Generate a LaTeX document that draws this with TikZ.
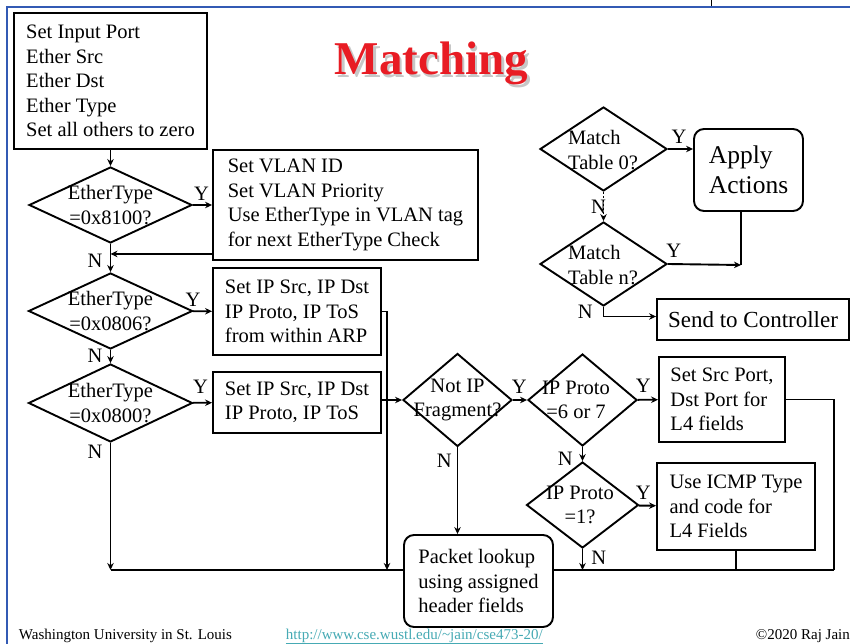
\documentclass[tikz,border=0pt]{standalone}
\usepackage{fontspec}
\setmainfont{Liberation Serif}
\usepackage{tikz}
\usetikzlibrary{shapes.geometric,arrows.meta,calc,positioning}

\definecolor{titlered}{RGB}{232,28,36}
\definecolor{framecol}{RGB}{50,90,180}
\definecolor{urlcol}{RGB}{70,170,180}

\begin{document}
\begin{tikzpicture}[%
    x=1pt, y=-1pt,
    >={Stealth[length=7pt,width=6.5pt]},
    line width=1.9pt,
    font=\fontsize{20.5}{24.5}\selectfont,
    block/.style={draw, rectangle, align=left, inner sep=2pt},
    rblock/.style={block, rounded corners=10pt},
    check/.style={draw, diamond, inner sep=0pt},
    chktext/.style={align=center, inner sep=0pt},
    yn/.style={inner sep=1pt},
    foot/.style={anchor=base west, inner sep=0pt, font=\fontsize{15}{18}\selectfont}
  ]
  \fill[white] (0,0) rectangle (850,644);
  \useasboundingbox (0,0) rectangle (850,644);
  \draw[framecol, line width=2pt] (7,644) -- (7,7) -- (850,7);
  \draw[line width=1pt] (711,0) -- (711,6);

  \node[text=black!22, font=\bfseries\fontsize{47}{56}\selectfont, anchor=base west, inner sep=0pt] (titleshadow) at (336.5,77.5) {Matching};
  \node[text=titlered, font=\bfseries\fontsize{47}{56}\selectfont, anchor=base west, inner sep=0pt] (title) at (334,75) {Matching};

  \node[block, minimum width=193pt, minimum height=136pt] (inp) at (110.5,81) {Set Input Port\\Ether Src\\Ether Dst\\Ether Type\\Set all others to zero};
  \node[check, minimum width=163pt, minimum height=76pt] (d1) at (110.5,205) {};
  \node[chktext] (t1) at (d1) {EtherType\\=0x8100?};
  \node[block, minimum width=265pt, minimum height=110pt] (vlan) at (345.5,205) {Set VLAN ID\\Set VLAN Priority\\Use EtherType in VLAN tag\\for next EtherType Check};
  \node[check, minimum width=164pt, minimum height=76pt] (d2) at (110.5,311) {};
  \node[chktext] (t2) at (d2) {EtherType\\=0x0806?};
  \node[block, minimum width=168pt, minimum height=87pt] (arp) at (297,311.5) {Set IP Src, IP Dst\\IP Proto, IP ToS\\from within ARP};
  \node[check, minimum width=164pt, minimum height=78pt] (d3) at (110.5,403) {};
  \node[chktext] (t3) at (d3) {EtherType\\=0x0800?};
  \node[block, minimum width=168pt, minimum height=61pt] (ipv4) at (297,402.5) {Set IP Src, IP Dst\\IP Proto, IP ToS};

  \node[check, minimum width=109pt, minimum height=93pt] (d4) at (457.5,400) {};
  \node[chktext] (t4) at (d4) {Not IP\\Fragment?};
  \node[check, minimum width=109pt, minimum height=92pt] (d5) at (582.5,400) {};
  \node[chktext] (t5) at (576,400) {IP Proto\\=6 or 7};
  \node[block, minimum width=126pt, minimum height=85pt] (l4) at (722,399.5) {Set Src Port,\\Dst Port for\\L4 fields};
  \node[check, minimum width=112pt, minimum height=86pt] (d6) at (582.5,505) {};
  \node[chktext] (t6) at (580,505) {IP Proto\\=1?};
  \node[block, minimum width=158pt, minimum height=87pt] (icmp) at (736,506.5) {Use ICMP Type\\and code for\\L4 Fields};
  \node[rblock, minimum width=149pt, minimum height=92pt] (lookup) at (478.5,581) {Packet lookup\\using assigned\\header fields};

  \node[check, minimum width=127pt, minimum height=84pt] (d7) at (603.5,149) {};
  \node[chktext, align=left] (t7) at (603,150) {Match\\Table 0?};
  \node[rblock, minimum width=109pt, minimum height=82pt, font=\fontsize{25.5}{30}\selectfont] (apply) at (748.5,170) {Apply\\Actions};
  \node[check, minimum width=127pt, minimum height=84pt] (d8) at (603.5,264) {};
  \node[chktext, align=left] (t8) at (603,265) {Match\\Table n?};
  \node[block, minimum width=192pt, minimum height=41pt, font=\fontsize{23}{27}\selectfont] (ctrl) at (753,319.5) {Send to Controller};

  \coordinate (j1) at (110.5,570);
  \coordinate (j2) at (387,570);
  \coordinate (j3) at (582.5,570);
  \coordinate (j5) at (834,570);
  \coordinate (hj) at (741,265);
  \coordinate (vback) at ([yshift=7pt]vlan.south west);

  \path[->] (inp) edge (d1);
  \path[->] (d1) edge node[yn, pos=.45, above=3pt] {Y} (vlan);
  \draw[->] (vback) -- (vback -| d1);
  \path[->] (d1) edge node[yn, pos=.6, left=6pt] {N} (d2);
  \path[->] (d2) edge node[yn, pos=0, above=3pt] {Y} (arp);
  \path[->] (d2) edge node[yn, pos=.45, left=6pt] {N} (d3);
  \path[->] (d3) edge node[yn, pos=.4, above=7pt] {Y} (ipv4);
  \draw[->] (d3.south) -- node[yn, pos=.07, left=6pt] {N} (j1);
  \draw[->] (arp.east) -| (j2);
  \draw[->] (ipv4.east |- d4) -- (d4);
  \path[->] (d4) edge node[yn, pos=.45, above=5pt] {Y} (d5);
  \path[->] (d5) edge node[yn, pos=.27, above=5pt] {Y} (l4);
  \draw (l4.east) -| (j5);
  \draw (j5) -- (j5 -| lookup.east);
  \draw (j1) -- (j1 -| lookup.west);
  \draw[->] (d4.south) -- node[yn, pos=.15, left=4pt] {N} (d4.south |- lookup.north);
  \path[->] (d5) edge node[yn, pos=.85, left=8pt] {N} (d6);
  \path[->] (d6) edge node[yn, pos=.26, above=4pt] {Y} (icmp);
  \draw[->] (d6.south) -- node[yn, pos=.4, right=7pt] {N} (j3);
  \draw (icmp.south) -- (icmp.south |- j1);

  \draw[->] (d7.east) -- node[yn, pos=.44, above=4pt] {Y} (d7.east -| apply.west);
  \path[->, dash pattern=on 2pt off 2pt] (d7) edge node[yn, pos=.5, xshift=-5pt] {N} (d8);
  \draw ([xshift=-7.5pt]apply.south) -- (hj);
  \draw[->] (d8.east) -- node[yn, pos=.08, above=5pt] {Y} (hj);
  \draw[->] (d8.south) |- node[yn, pos=.25, left=9pt] {N} ([yshift=3pt]ctrl.west);

  \node[foot] (univ) at (18,639) {Washington University in St. Louis};
  \node[foot, text=urlcol] (url) at (285,639) {\underline{http://www.cse.wustl.edu/\textasciitilde jain/cse473-20/}};
  \node[foot] (copy) at (755,639) {\textcopyright 2020 Raj Jain};
\end{tikzpicture}
\end{document}
